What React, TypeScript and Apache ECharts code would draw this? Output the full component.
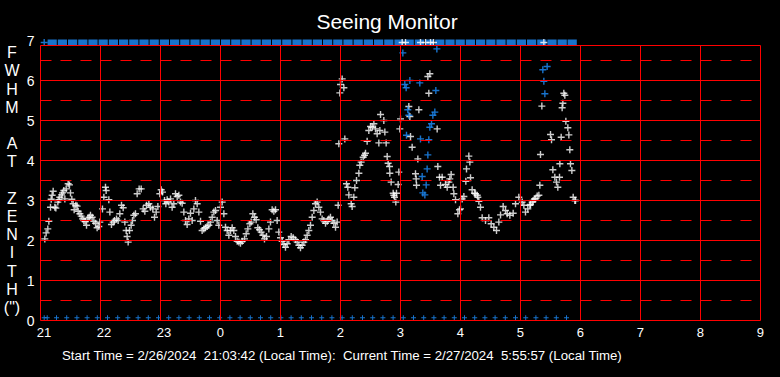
import React, { useEffect, useRef } from 'react';
import * as echarts from 'echarts';

// x values are hours after 21:00
const hourLabels = ['21', '22', '23', '0', '1', '2', '3', '4', '5', '6', '7', '8', '9'];

const fwhmWhite: [number, number][] = [
  [0.072, 2.04], [0.094, 2.19], [0.122, 2.29], [0.139, 2.48], [0.167, 2.83], [0.178, 3.03], [0.194, 3.13], [0.211, 3.23],
  [0.239, 2.83], [0.256, 2.81], [0.289, 2.96], [0.306, 3.02], [0.322, 3.08], [0.35, 3.14], [0.367, 3.19], [0.389, 3.25],
  [0.406, 3.04], [0.428, 3.29], [0.461, 3.42], [0.483, 3.39], [0.5, 3.19], [0.522, 3.03], [0.544, 2.92], [0.561, 2.77],
  [0.589, 2.88], [0.611, 2.86], [0.628, 2.73], [0.656, 2.67], [0.678, 2.61], [0.7, 2.54], [0.722, 2.5], [0.744, 2.48],
  [0.767, 2.38], [0.789, 2.54], [0.811, 2.58], [0.833, 2.63], [0.861, 2.58], [0.889, 2.48], [0.917, 2.43], [0.944, 2.32],
  [0.972, 2.35], [0.989, 2.46],
  [1.033, 2.79], [1.056, 3.08], [1.083, 3.33], [1.094, 3.25], [1.139, 3.02], [1.156, 2.71], [1.183, 2.4], [1.211, 2.46],
  [1.233, 2.5], [1.267, 2.54], [1.294, 2.5], [1.322, 2.67], [1.35, 2.88], [1.378, 2.82], [1.406, 2.46], [1.428, 2.25],
  [1.444, 2.1], [1.461, 1.96], [1.483, 2.25], [1.511, 2.38], [1.533, 2.5], [1.556, 2.63], [1.583, 2.67], [1.611, 3.17],
  [1.644, 3.29], [1.678, 3.29], [1.711, 2.79], [1.739, 2.73], [1.767, 2.88], [1.806, 2.92], [1.833, 2.83], [1.872, 2.79],
  [1.9, 2.58], [1.928, 2.71], [1.956, 2.85], [1.989, 3.17], [2.011, 3.27], [2.033, 3.21], [2.067, 3.0], [2.089, 2.92],
  [2.111, 3.02], [2.139, 2.96], [2.167, 3.04], [2.194, 2.83], [2.222, 2.92], [2.25, 3.17], [2.278, 3.1], [2.306, 3.13],
  [2.333, 2.96], [2.361, 2.93], [2.389, 2.71], [2.417, 2.5], [2.444, 2.4], [2.472, 2.54], [2.5, 2.68], [2.528, 2.5],
  [2.556, 2.79], [2.583, 3.0], [2.611, 2.92], [2.639, 2.71], [2.667, 2.48], [2.694, 2.25], [2.722, 2.29], [2.75, 2.32],
  [2.778, 2.35], [2.806, 2.38], [2.833, 2.46], [2.861, 2.58], [2.889, 2.71], [2.917, 2.75], [2.944, 2.5], [2.972, 2.38],
  [3.0, 2.83], [3.028, 2.96], [3.056, 2.67], [3.083, 2.33], [3.111, 2.25], [3.139, 2.13], [3.167, 2.25], [3.194, 2.32],
  [3.222, 2.25], [3.25, 2.1], [3.278, 1.98], [3.306, 1.96], [3.333, 1.93], [3.361, 1.98], [3.4, 2.04], [3.428, 2.17],
  [3.456, 2.29], [3.489, 2.42], [3.511, 2.46], [3.539, 2.67], [3.567, 2.58], [3.594, 2.52], [3.622, 2.32], [3.65, 2.27],
  [3.678, 2.21], [3.706, 2.13], [3.733, 2.04], [3.767, 2.1], [3.806, 2.29], [3.833, 2.46], [3.861, 2.77], [3.889, 2.73],
  [3.917, 2.77], [3.944, 2.5], [3.972, 2.21], [4.0, 2.07], [4.028, 1.98], [4.056, 1.9], [4.083, 1.83], [4.111, 1.92],
  [4.139, 2.02], [4.178, 2.1], [4.211, 2.07], [4.25, 2.02], [4.278, 1.96], [4.306, 1.88], [4.333, 1.82], [4.361, 1.88],
  [4.389, 1.96], [4.417, 2.02], [4.444, 2.13], [4.472, 2.25], [4.5, 2.38], [4.528, 2.58], [4.556, 2.75], [4.583, 2.92],
  [4.611, 2.96], [4.639, 2.83], [4.667, 2.71], [4.694, 2.54], [4.722, 2.5], [4.75, 2.43], [4.778, 2.48], [4.806, 2.54],
  [4.833, 2.58], [4.861, 2.5], [4.889, 2.43], [4.917, 2.33], [4.944, 2.46], [4.961, 2.88],
  [4.972, 4.42], [4.989, 5.69], [5.0, 5.9], [5.028, 6.04], [5.056, 5.82], [5.072, 4.54], [5.1, 3.42], [5.122, 3.33],
  [5.139, 3.14], [5.178, 2.92], [5.194, 2.85], [5.222, 3.08], [5.239, 3.32], [5.267, 3.5], [5.306, 3.68], [5.322, 3.88],
  [5.344, 3.96], [5.378, 4.08], [5.4, 4.13], [5.417, 4.18], [5.444, 4.48], [5.472, 4.75], [5.5, 4.85], [5.528, 4.83],
  [5.556, 4.92], [5.583, 4.79], [5.611, 4.67], [5.639, 4.44], [5.656, 4.75], [5.667, 5.15], [5.722, 5.0], [5.739, 4.71],
  [5.761, 4.44], [5.778, 4.1], [5.794, 3.93], [5.817, 3.85], [5.822, 3.68], [5.844, 3.46], [5.878, 3.18], [5.889, 3.13],
  [5.9, 3.08], [5.922, 2.96], [5.933, 3.18], [5.961, 3.4], [5.972, 3.71], [5.989, 4.79], [6.0, 5.04], [6.139, 5.35],
  [6.156, 5.1], [6.167, 4.6], [6.194, 4.33], [6.25, 3.67], [6.261, 3.54], [6.267, 3.38], [6.289, 4.04], [6.306, 5.27],
  [6.456, 6.1], [6.472, 5.68], [6.489, 6.17], [6.611, 4.79], [6.622, 3.85], [6.65, 3.58], [6.667, 3.38], [6.694, 3.58],
  [6.75, 3.4], [6.778, 3.33], [6.806, 3.46], [6.822, 3.54], [6.844, 3.65], [6.878, 3.33], [6.889, 3.17], [6.917, 3.02],
  [6.956, 2.67], [6.983, 2.77], [7.0, 2.79], [7.028, 3.04], [7.056, 3.1], [7.089, 3.48], [7.1, 3.79], [7.139, 4.11],
  [7.156, 3.96], [7.167, 3.57], [7.194, 3.27], [7.233, 3.18], [7.25, 3.17], [7.278, 3.13], [7.289, 3.08], [7.306, 2.98],
  [7.333, 2.83], [7.361, 2.57], [7.417, 2.5], [7.472, 2.57], [7.511, 2.42], [7.556, 2.33], [7.6, 2.25], [7.639, 2.46],
  [7.667, 2.64], [7.711, 2.85], [7.75, 2.75], [7.778, 2.67], [7.822, 2.63], [7.878, 2.68], [7.917, 2.92], [7.972, 3.08],
  [8.028, 2.96], [8.056, 2.88], [8.083, 2.71], [8.122, 2.79], [8.156, 2.88], [8.167, 2.9], [8.194, 2.96], [8.211, 3.0],
  [8.233, 3.04], [8.25, 3.04], [8.278, 3.11], [8.306, 3.13], [8.322, 3.38], [8.333, 4.15], [8.356, 5.36], [8.5, 4.65],
  [8.517, 4.52], [8.539, 3.77], [8.572, 3.58], [8.6, 3.46], [8.622, 3.33], [8.65, 3.58], [8.656, 3.92], [8.678, 4.58],
  [8.694, 5.32], [8.706, 5.43], [8.722, 5.68], [8.739, 5.63], [8.756, 4.98], [8.789, 4.82], [8.806, 4.64], [8.822, 4.27],
  [8.833, 3.92], [8.856, 3.75], [8.878, 3.08], [8.906, 3.0], [8.917, 3.0],
];

const fwhmBlue: [number, number][] = [
  [6.039, 6.69], [6.072, 5.9], [6.094, 5.82], [6.1, 4.63], [6.122, 5.27], [6.139, 5.13], [6.156, 6.0], [6.322, 5.94],
  [6.333, 4.54], [6.361, 3.6], [6.372, 3.19], [6.406, 3.14], [6.428, 3.39], [6.444, 3.79], [6.456, 4.14], [6.472, 4.52],
  [6.489, 4.83], [6.517, 4.92], [6.539, 5.13], [6.572, 5.21], [6.589, 5.75], [6.606, 6.79],
  [8.372, 6.27], [8.389, 5.98], [8.406, 5.67], [8.444, 6.35],
];

// white readings above the top of the scale (drawn clipped at the top edge), hours after 21:00
const clippedWhiteHours = [6.028, 6.083, 6.333, 6.417, 6.5, 6.55, 8.389];

// minutes after 21:00
const topBandMinutes = [
  11.7, 21.9, 32.1, 42.3, 52.5, 62.7, 72.9, 83.1, 93.3, 103.5, 113.7, 123.9, 134.1, 144.3, 154.5, 164.7, 174.9,
  185.1, 195.3, 205.5, 215.7, 225.9, 236.1, 246.3, 256.5, 266.7, 276.9, 287.1, 297.3, 307.5, 317.7, 327.9, 338.1,
  348.3, 358.5, 368.7, 378.9, 389.1, 399.3, 409.5, 419.7, 429.9, 440.1, 450.3, 460.5, 470.7, 480.9, 491.1, 501.3,
  511.5, 521.7, 531.7,
];
const topStartMinutes = [3.7];
const bottomMinutes = [
  3.7, 6.7, 16.0, 26.2, 36.4, 46.6, 56.8, 67.0, 77.2, 87.4, 97.6, 107.8, 118.0, 128.2, 138.4, 148.6, 158.8, 169.0,
  179.2, 189.4, 199.6, 209.8, 220.0, 230.2, 240.4, 250.6, 260.8, 271.0, 281.2, 291.4, 301.6, 311.8, 322.0, 332.2,
  342.4, 352.6, 362.8, 373.0, 383.2, 393.4, 403.6, 413.8, 424.0, 434.2, 444.4, 454.6, 464.8, 475.0, 485.2, 495.4,
  505.6, 515.8, 526.0,
];

const TOP_EDGE = 6.875;
const TOP_ROW = 6.95;
const BOTTOM_ROW = 0.07;
const RED = '#ff0000';
const BLUE = '#1e90ff';
const FONT = 'Liberation Sans';
const PLUS = 'path://M2.8,0H4.2V2.8H7V4.2H4.2V7H2.8V4.2H0V2.8H2.8Z';

export default function App() {
  const ref = useRef<HTMLDivElement>(null);
  useEffect(() => {
    if (!ref.current) return;
    const chart = echarts.init(ref.current, undefined, { renderer: 'svg' });

    const solidLines: any[] = [];
    for (let h = 0; h < hourLabels.length; h++) {
      solidLines.push([{ coord: [h, 0] }, { coord: [h, TOP_EDGE] }]);
    }
    for (let v = 0; v <= 6; v++) {
      solidLines.push([{ coord: [0, v] }, { coord: [12, v] }]);
    }
    solidLines.push([{ coord: [0, TOP_EDGE] }, { coord: [12, TOP_EDGE] }]);
    const dashedLines: any[] = [];
    for (let v = 0.5; v < 7; v += 1) {
      dashedLines.push([{ coord: [0, v] }, { coord: [12, v] }]);
    }

    chart.setOption({
      animation: false,
      backgroundColor: '#000',
      grid: { left: 40.5, top: 40.5, width: 720, height: 280 },
      xAxis: {
        type: 'value', min: 0, max: 12, interval: 1,
        axisLine: { show: false }, axisTick: { show: false }, splitLine: { show: false },
        axisLabel: {
          color: '#fff', fontSize: 13, fontFamily: FONT, margin: 5, align: 'left',
          padding: [0, 0, 0, -3.8],
          formatter: (v: number) => hourLabels[Math.round(v)] ?? '',
        },
      },
      yAxis: {
        type: 'value', min: 0, max: 7, interval: 1,
        axisLine: { show: false }, axisTick: { show: false }, splitLine: { show: false },
        axisLabel: { color: '#fff', fontSize: 14, fontFamily: FONT, margin: 6 },
      },
      graphic: [
        {
          type: 'text', x: 387, y: 21,
          style: { text: 'Seeing Monitor', fill: '#fff', fontSize: 21, fontFamily: FONT, align: 'center', verticalAlign: 'middle' },
        },
        {
          type: 'text', x: 12, y: 180,
          style: {
            text: 'F\nW\nH\nM\n\nA\nT\n\nZ\nE\nN\nI\nT\nH\n(")', fill: '#fff', fontSize: 16, lineHeight: 18.2,
            fontFamily: FONT, align: 'center', verticalAlign: 'middle',
          },
        },
        {
          type: 'text', x: 62, y: 355,
          style: {
            text: 'Start Time = 2/26/2024  21:03:42 (Local Time):  Current Time = 2/27/2024  5:55:57 (Local Time)',
            fill: '#fff', fontSize: 13.25, fontFamily: FONT, align: 'left', verticalAlign: 'middle',
          },
        },
      ],
      series: [
        {
          type: 'scatter', data: [], z: 1, silent: true,
          markLine: {
            silent: true, symbol: ['none', 'none'], label: { show: false }, animation: false,
            lineStyle: { color: RED, width: 1, type: 'solid' },
            data: solidLines,
          },
        },
        {
          type: 'scatter', data: [], z: 1, silent: true,
          markLine: {
            silent: true, symbol: ['none', 'none'], label: { show: false }, animation: false,
            lineStyle: { color: RED, width: 1, type: [11, 9] },
            data: dashedLines,
          },
        },
        {
          type: 'scatter', z: 3, clip: false, symbol: 'rect', symbolSize: [9.2, 6],
          itemStyle: { color: BLUE },
          data: topBandMinutes.map((m) => [m / 60, TOP_ROW]),
        },
        {
          type: 'scatter', z: 3, clip: false, symbol: PLUS, symbolSize: 7,
          itemStyle: { color: BLUE },
          data: topStartMinutes.map((m) => [m / 60, TOP_ROW]),
        },
        {
          type: 'scatter', z: 4, clip: false, symbol: PLUS, symbolSize: 7,
          itemStyle: { color: '#fff' },
          data: clippedWhiteHours.map((h) => [h, TOP_ROW]),
        },
        {
          type: 'scatter', z: 3, symbol: PLUS, symbolSize: 5,
          itemStyle: { color: BLUE },
          data: bottomMinutes.map((m) => [m / 60, BOTTOM_ROW]),
        },
        {
          type: 'scatter', z: 3, symbol: PLUS, symbolSize: 7,
          itemStyle: { color: '#fff' },
          data: fwhmWhite,
        },
        {
          type: 'scatter', z: 4, symbol: PLUS, symbolSize: 7,
          itemStyle: { color: BLUE },
          data: fwhmBlue,
        },
      ],
    });
    return () => chart.dispose();
  }, []);
  return (
    <div
      ref={ref}
      style={{ position: 'fixed', left: 0, top: 0, width: 780, height: 377, background: '#000' }}
    />
  );
}
